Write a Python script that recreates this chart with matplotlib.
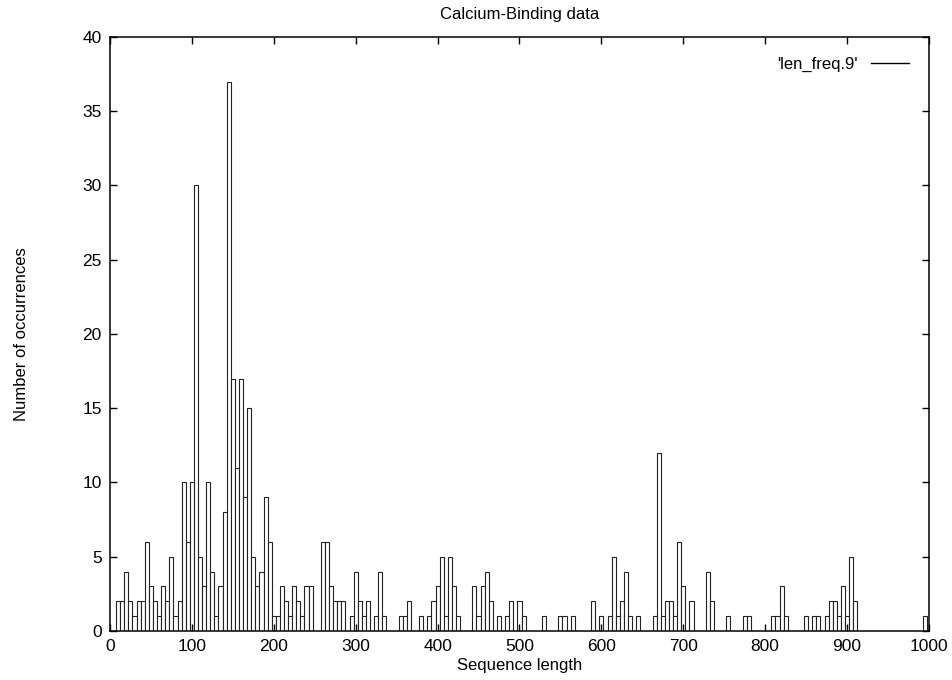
import matplotlib
matplotlib.use('Agg')
import matplotlib.pyplot as plt
import numpy as np

plt.rcParams['font.family'] = ['Liberation Sans', 'DejaVu Sans']

# sequence length bins (width 5) and number of occurrences
lengths = [10, 15, 20, 25, 30, 35, 40, 45, 50, 55, 60, 65, 70, 75, 80, 85, 90, 95, 100, 105,
           110, 115, 120, 125, 130, 135, 140, 145, 150, 155, 160, 165, 170, 175, 180, 185, 190, 195,
           200, 205, 210, 215, 220, 225, 230, 235, 240, 245, 260, 265, 270, 275, 280, 285, 295,
           300, 305, 310, 315, 325, 330, 335, 355, 360, 365, 380, 390, 395,
           400, 405, 410, 415, 420, 425, 445, 450, 455, 460, 465, 475, 485, 490,
           500, 505, 530, 550, 555, 565, 590,
           600, 610, 615, 620, 625, 630, 635, 645, 665, 670, 675, 680, 685, 690, 695,
           700, 710, 730, 735, 755, 775, 780,
           810, 815, 820, 825, 850, 860, 865, 875, 880, 885, 890, 895,
           900, 905, 910, 995]
counts = [2, 2, 4, 2, 1, 2, 2, 6, 3, 2, 1, 3, 2, 5, 1, 2, 10, 6, 10, 30,
          5, 3, 10, 4, 1, 3, 8, 37, 17, 11, 17, 9, 15, 5, 3, 4, 9, 6,
          1, 1, 3, 2, 1, 3, 2, 1, 3, 3, 6, 6, 3, 2, 2, 2, 1,
          4, 2, 1, 2, 1, 4, 1, 1, 1, 2, 1, 1, 2,
          3, 5, 1, 5, 3, 1, 3, 1, 3, 4, 2, 1, 1, 2,
          2, 1, 1, 1, 1, 1, 2,
          1, 1, 5, 1, 2, 4, 1, 1, 1, 12, 1, 2, 2, 1, 6,
          3, 2, 4, 2, 1, 1, 1,
          1, 1, 3, 1, 1, 1, 1, 1, 2, 2, 1, 3,
          1, 5, 2, 1]
series_name = "'len_freq.9'"

fig = plt.figure(figsize=(9.53, 6.8), dpi=100)
ax = fig.add_axes([0.1154, 0.0721, 0.8594, 0.8735])

ax.bar(lengths, counts, width=5, align='center', color='white',
       edgecolor='#222222', linewidth=0.8)
# legend sample, gnuplot style (line to the right of the text)
ax.plot([], [], color='black', linewidth=1, label=series_name)

ax.set_xlim(0, 1000)
ax.set_ylim(0, 40)
ax.set_xticks(np.arange(0, 1001, 100))
ax.set_yticks(np.arange(0, 41, 5))
ax.tick_params(direction='in', top=True, right=True, length=5, width=1,
               labelsize=12.5, pad=6)
for s in ax.spines.values():
    s.set_linewidth(1.1)

ax.set_title('Calcium-Binding data', fontsize=12, pad=13)
ax.set_xlabel('Sequence length', fontsize=12, labelpad=3)
ax.set_ylabel('Number of occurrences', fontsize=12, labelpad=38)

leg = ax.legend(loc='upper right', frameon=False, markerfirst=False,
                fontsize=12, handlelength=2.3, borderaxespad=0.8)

fig.savefig('out.png', dpi=100)
